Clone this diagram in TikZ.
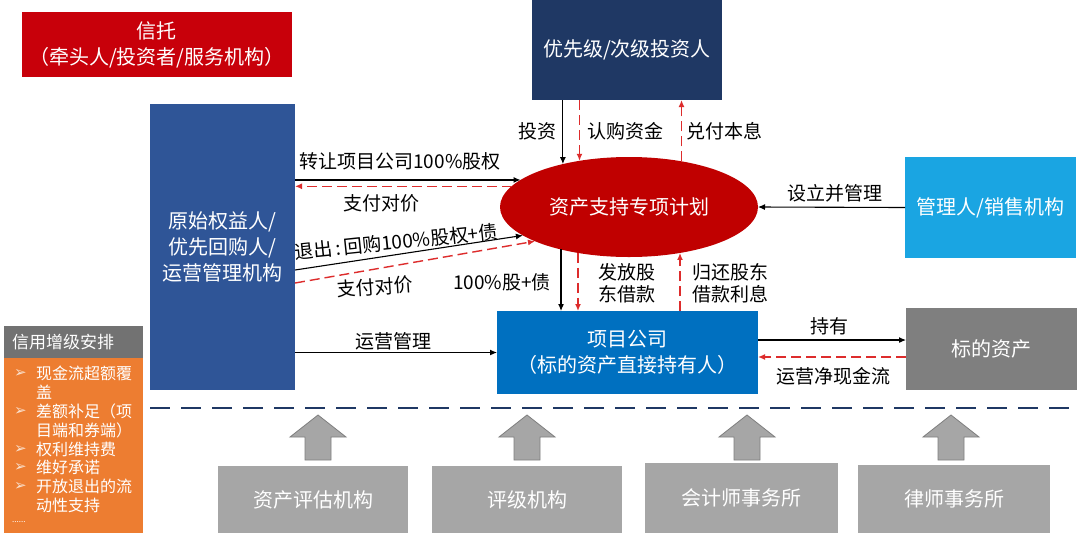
\documentclass[tikz,border=0pt]{standalone}
\usepackage{fontspec}
\setmainfont{Noto Sans CJK SC}
\newfontfamily\djv{DejaVu Sans}
\usetikzlibrary{shapes.geometric,arrows.meta,calc}
\definecolor{trustred}{HTML}{C8000A}
\definecolor{navy}{HTML}{1F3864}
\definecolor{origblue}{HTML}{2F5597}
\definecolor{ellred}{HTML}{C00000}
\definecolor{mgrblue}{HTML}{1AA5E2}
\definecolor{projblue}{HTML}{0070C0}
\definecolor{assetgray}{HTML}{7F7F7F}
\definecolor{lightgray}{HTML}{A6A6A6}
\definecolor{credorange}{HTML}{ED7D31}
\definecolor{dashred}{HTML}{DD2C2C}
\tikzset{
  box/.style={draw=none, inner sep=0pt, outer sep=0pt, align=center, text=white,
    font=\fontsize{20}{26}\selectfont},
  lab/.style={inner sep=0pt, align=center, text=black, font=\fontsize{19}{22}\selectfont},
  arr/.style={-{Latex[length=7pt,width=6pt]}, line width=1.1pt, black},
  rarr/.style={-{Latex[length=7pt,width=6pt]}, line width=1.4pt, dashred, dash pattern=on 10pt off 5pt},
  garrow/.style={fill=lightgray, draw=assetgray, line width=0.8pt},
  lst/.style={anchor=west, inner sep=0pt, text=white, font=\fontsize{16}{18}\selectfont},
  bul/.style={anchor=west, inner sep=0pt, text=white!75!credorange, font=\djv\fontsize{15}{16}\selectfont}
}
\begin{document}
\begin{tikzpicture}[x=1pt,y=-1pt]
\fill[white] (0,0) rectangle (1080,542);
\useasboundingbox (0,0) rectangle (1080,542);

% boxes
\node[box, fill=trustred, minimum width=270pt, minimum height=65pt] (trust) at (157,44.5) {信托\\（牵头人/投资者/服务机构）};
\node[box, fill=navy, minimum width=190pt, minimum height=100pt] (inv) at (627,50) {优先级/次级投资人};
\node[box, fill=origblue, minimum width=145pt, minimum height=286pt] (orig) at (222.5,247) {原始权益人/\\优先回购人/\\运营管理机构};
\node[box, ellipse, fill=ellred, minimum width=258pt, minimum height=100pt] (ell) at (629,207) {资产支持专项计划};
\node[box, fill=mgrblue, minimum width=171pt, minimum height=101pt] (mgr) at (990.5,207.5) {管理人/销售机构};
\node[box, fill=projblue, minimum width=261pt, minimum height=83pt] (proj) at (627.5,352.5) {项目公司\\（标的资产直接持有人）};
\node[box, fill=assetgray, minimum width=171pt, minimum height=82pt] (asset) at (991.5,349) {标的资产};

% credit enhancement box
\node[box, fill=assetgray!90!black, minimum width=139pt, minimum height=32pt] (credh) at (73.5,342) {};
\node[box, fill=credorange, minimum width=139pt, minimum height=175pt] (credb) at (73.5,445.5) {};
\node[lst, font=\fontsize{17}{20}\selectfont] (ch) at (12,342) {信用增级安排};
\node[bul] (b1) at (14,373) {➢};
\node[lst] (l1) at (36,373) {现金流超额覆};
\node[lst] (l1b) at (36,392) {盖};
\node[bul] (b2) at (14,411) {➢};
\node[lst] (l2) at (36,411) {差额补足（项};
\node[lst] (l2b) at (36,430) {目端和券端）};
\node[bul] (b3) at (14,449) {➢};
\node[lst] (l3) at (36,449) {权利维持费};
\node[bul] (b4) at (14,467) {➢};
\node[lst] (l4) at (36,467) {维好承诺};
\node[bul] (b5) at (14,486) {➢};
\node[lst] (l5) at (36,486) {开放退出的流};
\node[lst] (l5b) at (36,505) {动性支持};
\node[lst, font=\fontsize{8}{9}\selectfont] (dots) at (12,522) {......};

% bottom boxes
\node[box, fill=lightgray, minimum width=190pt, minimum height=67pt] (s1) at (313,499.5) {资产评估机构};
\node[box, fill=lightgray, minimum width=190pt, minimum height=67pt] (s2) at (527,499.5) {评级机构};
\node[box, fill=lightgray, minimum width=193pt, minimum height=70pt] (s3) at (741.5,498) {会计师事务所};
\node[box, fill=lightgray, minimum width=192pt, minimum height=68pt] (s4) at (954,499) {律师事务所};

% dashed separator
\coordinate (sepL) at (150,408);
\coordinate (sepR) at (1078,408);
\draw[navy, line width=2.6pt, dash pattern=on 20pt off 11pt] (sepL) -- (sepR);

% gray up arrows
\foreach \cx in {318,527,747,951}
  \filldraw[garrow] (\cx-13,460) -- (\cx-13,437) -- (\cx-28,437) -- (\cx,415) -- (\cx+28,437) -- (\cx+13,437) -- (\cx+13,460) -- cycle;

% connectors
\draw[arr] (orig.east |- ell.166) -- (ell.166);
\draw[rarr] (ell.170) -- (orig.east |- ell.170);
\draw[arr] ([yshift=-23pt]orig.east) -- (ell.195.6);
\draw[rarr] ([yshift=-36pt]orig.east) -- (ell.200);
\draw[arr] (inv.south -| ell.147.5) -- (ell.147.5);
\draw[rarr] (inv.south -| ell.137.3) -- (ell.137.3);
\draw[rarr] (ell.41.4) -- (ell.41.4 |- inv.south);
\draw[arr] (mgr.west) -- (ell.east);
\draw[arr] (ell.212.5) -- (ell.212.5 |- proj.north);
\draw[rarr] (ell.222.7) -- (ell.222.7 |- proj.north);
\draw[rarr] (proj.north -| ell.318.6) -- (ell.318.6);
\draw[arr] (orig.east |- proj.west) -- (proj.west);
\draw[arr] ([yshift=12.5pt]proj.east) -- ([yshift=12.5pt]proj.east -| asset.west);
\draw[rarr] ([yshift=-4.5pt]proj.east -| asset.west) -- ([yshift=-4.5pt]proj.east);

% labels
\node[lab] (t1) at (400,161) {转让项目公司100\%股权};
\node[lab] (t2) at (381,203) {支付对价};
\node[lab, rotate=6] (t3) at (396,242) {退出\,:\,回购100\%股权+债};
\node[lab, rotate=4] (t4) at (375,287) {支付对价};
\node[lab] (t5) at (502,282) {100\%股+债};
\node[lab] (t6) at (537,131) {投资};
\node[lab] (t7) at (625,131) {认购资金};
\node[lab] (t8) at (724,131) {兑付本息};
\node[lab, font=\fontsize{19}{22}\selectfont] (t9) at (627,283) {发放股\\东借款};
\node[lab, font=\fontsize{19}{22}\selectfont] (t10) at (730,283) {归还股东\\借款利息};
\node[lab] (t11) at (835,193) {设立并管理};
\node[lab] (t12) at (393,341) {运营管理};
\node[lab] (t13) at (829,326) {持有};
\node[lab] (t14) at (833,376) {运营净现金流};
\end{tikzpicture}
\end{document}
